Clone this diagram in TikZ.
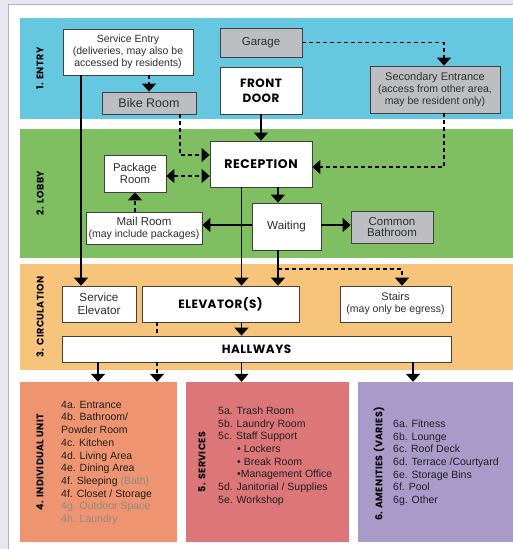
\documentclass[tikz,border=0pt]{standalone}
\usepackage{fontspec}
\setmainfont{Liberation Sans}
\newfontfamily\hdfont{Poppins}[LetterSpace=4]
\usetikzlibrary{arrows.meta}
\definecolor{bgl}{HTML}{E8E7F1}
\definecolor{frameline}{HTML}{B4B3BE}
\definecolor{cEntry}{HTML}{66C8E0}
\definecolor{cLobby}{HTML}{7FBF61}
\definecolor{cCirc}{HTML}{F6C47A}
\definecolor{cUnit}{HTML}{EE9470}
\definecolor{cServ}{HTML}{DD7679}
\definecolor{cAmen}{HTML}{A99BC9}
\definecolor{gbox}{HTML}{BDBEC1}
\definecolor{txt}{HTML}{2E2E2E}
\definecolor{dim}{HTML}{8E8A88}
\newcommand\mysz[2]{{\fontsize{#1}{12}\selectfont #2}}
\begin{document}
\begin{tikzpicture}[x=1pt,y=-1pt,
  box/.style={draw=black!75, line width=0.8pt, fill=white, inner sep=0pt, align=center, text=txt, font=\fontsize{10.5}{12}\selectfont},
  graybox/.style={box, fill=gbox},
  hd/.style={font=\hdfont\bfseries\fontsize{12}{15}\selectfont, text=black},
  bandlabel/.style={rotate=90, inner sep=0pt, font=\hdfont\bfseries\fontsize{9.5}{10}\selectfont, text=black},
  listtext/.style={anchor=north west, inner sep=0pt, align=left, text=black!88, font=\fontsize{10.5}{12.7}\selectfont},
  zone/.style={draw=none, inner sep=0pt},
  sl/.style={line width=1.3pt, -{Triangle[width=14pt,length=8pt]}},
  dl/.style={line width=1.3pt, dash pattern=on 4pt off 3pt, -{Triangle[width=14pt,length=8pt]}},
  dd/.style={line width=1.3pt, dash pattern=on 4pt off 3pt, {Triangle[width=14pt,length=8pt]}-{Triangle[width=14pt,length=8pt]}},
  dn/.style={line width=1.3pt, dash pattern=on 4pt off 3pt}
]
\useasboundingbox (0,0) rectangle (513,549);
% frame
\fill[bgl] (0,0) rectangle (513,549);
\filldraw[fill=white, draw=frameline, line width=0.8pt] (8.5,4.5) rectangle (514,550);
% bands
\fill[cEntry] (20,18) rectangle (513,119);
\fill[cLobby] (20,129) rectangle (513,258);
\fill[cCirc] (20,264) rectangle (513,370);
\node[bandlabel] (l1) at (40,68.5) {1. ENTRY};
\node[bandlabel] (l2) at (40,193) {2. LOBBY};
\node[bandlabel] (l3) at (40,317) {3. CIRCULATION};
% bottom zones
\node[zone, fill=cUnit, minimum width=157pt, minimum height=160pt] (b4) at (98.5,462) {};
\node[zone, fill=cServ, minimum width=163pt, minimum height=160pt] (b5) at (267.5,462) {};
\node[zone, fill=cAmen, minimum width=155pt, minimum height=160pt] (b6) at (435.5,462) {};
\node[bandlabel] (l4) at (40,462) {4. INDIVIDUAL UNIT};
\node[bandlabel] (l5) at (202,462) {5. SERVICES};
\node[bandlabel] (l6) at (379,464) {6. AMENITIES (VARIES)};
\node[listtext] (t4) at (61,400.8) {4a. Entrance\\4b. Bathroom/\\Powder Room\\4c. Kitchen\\4d. Living Area\\4e. Dining Area\\4f. Sleeping \textcolor{dim}{(Bath)}\\4f. Closet / Storage\\\textcolor{dim}{4g. Outdoor Space}\\\textcolor{dim}{4h. Laundry}};
\node[listtext] (t5) at (218,406.6) {5a. Trash Room\\5b. Laundry Room\\5c. Staff Support\\\hspace*{19pt}• Lockers\\\hspace*{19pt}• Break Room\\\hspace*{19pt}•Management Office\\5d. Janitorial / Supplies\\5e. Workshop};
\node[listtext] (t6) at (393,419.5) {6a. Fitness\\6b. Lounge\\6c. Roof Deck\\6d. Terrace /Courtyard\\6e. Storage Bins\\6f. Pool\\6g. Other};
% entry nodes
\node[box, minimum width=130pt, minimum height=46pt] (svc) at (128,52) {Service Entry\\(deliveries, may also be\\accessed by residents)};
\node[graybox, minimum width=94pt, minimum height=22pt] (bike) at (149,103) {\mysz{12.5}{Bike Room}};
\node[graybox, minimum width=82pt, minimum height=29pt] (garage) at (261,42.5) {\mysz{11.5}{Garage}};
\node[box, hd, minimum width=82pt, minimum height=47pt] (front) at (261,90.5) {FRONT\\DOOR};
\node[graybox, minimum width=130pt, minimum height=47pt] (sec) at (435,89.5) {\mysz{11}{Secondary Entrance}\\(access from other area,\\may be resident only)};
% lobby nodes
\node[box, hd, minimum width=102pt, minimum height=46pt, font=\hdfont\bfseries\fontsize{12.5}{15}\selectfont] (recep) at (261,164) {RECEPTION};
\node[box, minimum width=62pt, minimum height=37pt, font=\fontsize{11.3}{12}\selectfont] (pkg) at (135,173.5) {Package\\Room};
\node[box, minimum width=116pt, minimum height=32pt] (mail) at (144,228) {\mysz{11.5}{Mail Room}\\(may include packages)};
\node[box, minimum width=69pt, minimum height=47pt, font=\fontsize{11.7}{12}\selectfont] (wait) at (286.5,226.5) {Waiting};
\node[graybox, minimum width=82pt, minimum height=32pt, font=\fontsize{11.5}{11.5}\selectfont] (bath) at (392,227) {Common\\Bathroom};
% circulation nodes
\node[box, minimum width=74pt, minimum height=36pt, font=\fontsize{11.7}{12.5}\selectfont] (selev) at (99,304) {Service\\Elevator};
\node[box, hd, minimum width=157pt, minimum height=36pt] (elev) at (220.5,304) {ELEVATOR(S)};
\node[box, minimum width=111pt, minimum height=36pt] (stairs) at (395.5,304) {\mysz{11}{Stairs}\\(may only be egress)};
\node[box, hd, minimum width=389pt, minimum height=26pt] (hall) at (256.5,349) {HALLWAYS};
% column coordinates
\coordinate (xa) at (81,0);
\coordinate (xb) at (157,0);
\coordinate (xc) at (241.5,0);
\coordinate (xd) at (278,0);
\coordinate (xe) at (402,0);
\coordinate (xf) at (98,0);
\coordinate (xg) at (413,0);
\coordinate (xh) at (180,0);
\coordinate (xi) at (444,0);
\coordinate (split) at (278,269);
% connectors entry
\draw[dl] (svc.south -| bike.north) -- (bike.north);
\draw[sl] (svc.south -| xa) -- (selev.north -| xa);
\draw[dl] (garage.east) -| (sec.north -| xi);
\draw[dl] (bike.south -| xh) |- ([yshift=9pt]recep.west);
\draw[sl] (front.south) -- (recep.north);
\draw[dl] (sec.south -| xi) |- ([yshift=-3pt]recep.east);
% lobby
\draw[dd] ([yshift=-2.5pt]pkg.east) -- ([yshift=-2.5pt]pkg.east -| recep.west);
\draw[dl] (mail.north -| pkg.south) -- (pkg.south);
\draw[sl] (recep.south -| xd) -- (wait.north -| xd);
\draw[sl] ([yshift=1.5pt]wait.west) -- ([yshift=1.5pt]wait.west -| mail.east);
\draw[sl] ([yshift=1.5pt]wait.east) -- ([yshift=1.5pt]wait.east -| bath.west);
\draw[sl] (recep.south -| xc) -- (elev.north -| xc);
\draw[sl] (wait.south -| xd) -- (elev.north -| xd);
\draw[dl] (split) -| (stairs.north -| xe);
% circulation
\draw[sl] (elev.south -| xc) -- (hall.north -| xc);
\draw[dn] (elev.south -| xb) -- (hall.north -| xb);
\draw[dl] (hall.south -| xb) -- (b4.north -| xb);
\draw[sl] (hall.south -| xf) -- (b4.north -| xf);
\draw[sl] (hall.south -| xc) -- (b5.north -| xc);
\draw[sl] (hall.south -| xg) -- (b6.north -| xg);
\end{tikzpicture}
\end{document}
